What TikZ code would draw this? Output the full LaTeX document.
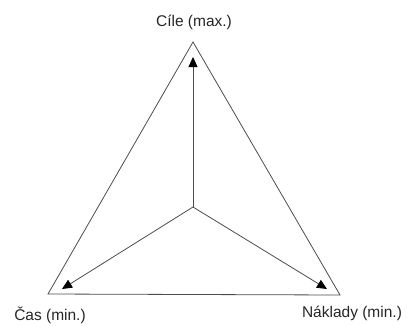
\documentclass[tikz,border=0pt]{standalone}
\usepackage{fontspec}
\setmainfont{Liberation Sans}
\usetikzlibrary{arrows.meta}
\begin{document}
\begin{tikzpicture}[x=1pt,y=-1pt,
  edge/.style={draw=black!70,line width=0.8pt},
  arr/.style={edge,-{Triangle[length=10pt,width=9pt,fill=black,color=black]}},
  lbl/.style={font=\fontsize{15.5}{18}\selectfont,text=black!85,inner sep=0pt}]
\useasboundingbox (0,0) rectangle (407,325);
\coordinate (top) at (193,42);
\coordinate (bl) at (48,294);
\coordinate (br) at (340,295);
\coordinate (c) at (193,207);
\coordinate (tu) at (193,57);
\coordinate (tl) at (62,289);
\coordinate (tr) at (327,289);
\draw[edge,line join=miter] (top) -- (bl) -- (br) -- cycle;
\draw[arr] (c) -- (tu);
\draw[arr] (c) -- (tl);
\draw[arr] (c) -- (tr);
\node[lbl] (goal) at (194,22) {Cíle (max.)};
\node[lbl] (time) at (50,315) {Čas (min.)};
\node[lbl] (cost) at (352,313) {Náklady (min.)};
\end{tikzpicture}
\end{document}
